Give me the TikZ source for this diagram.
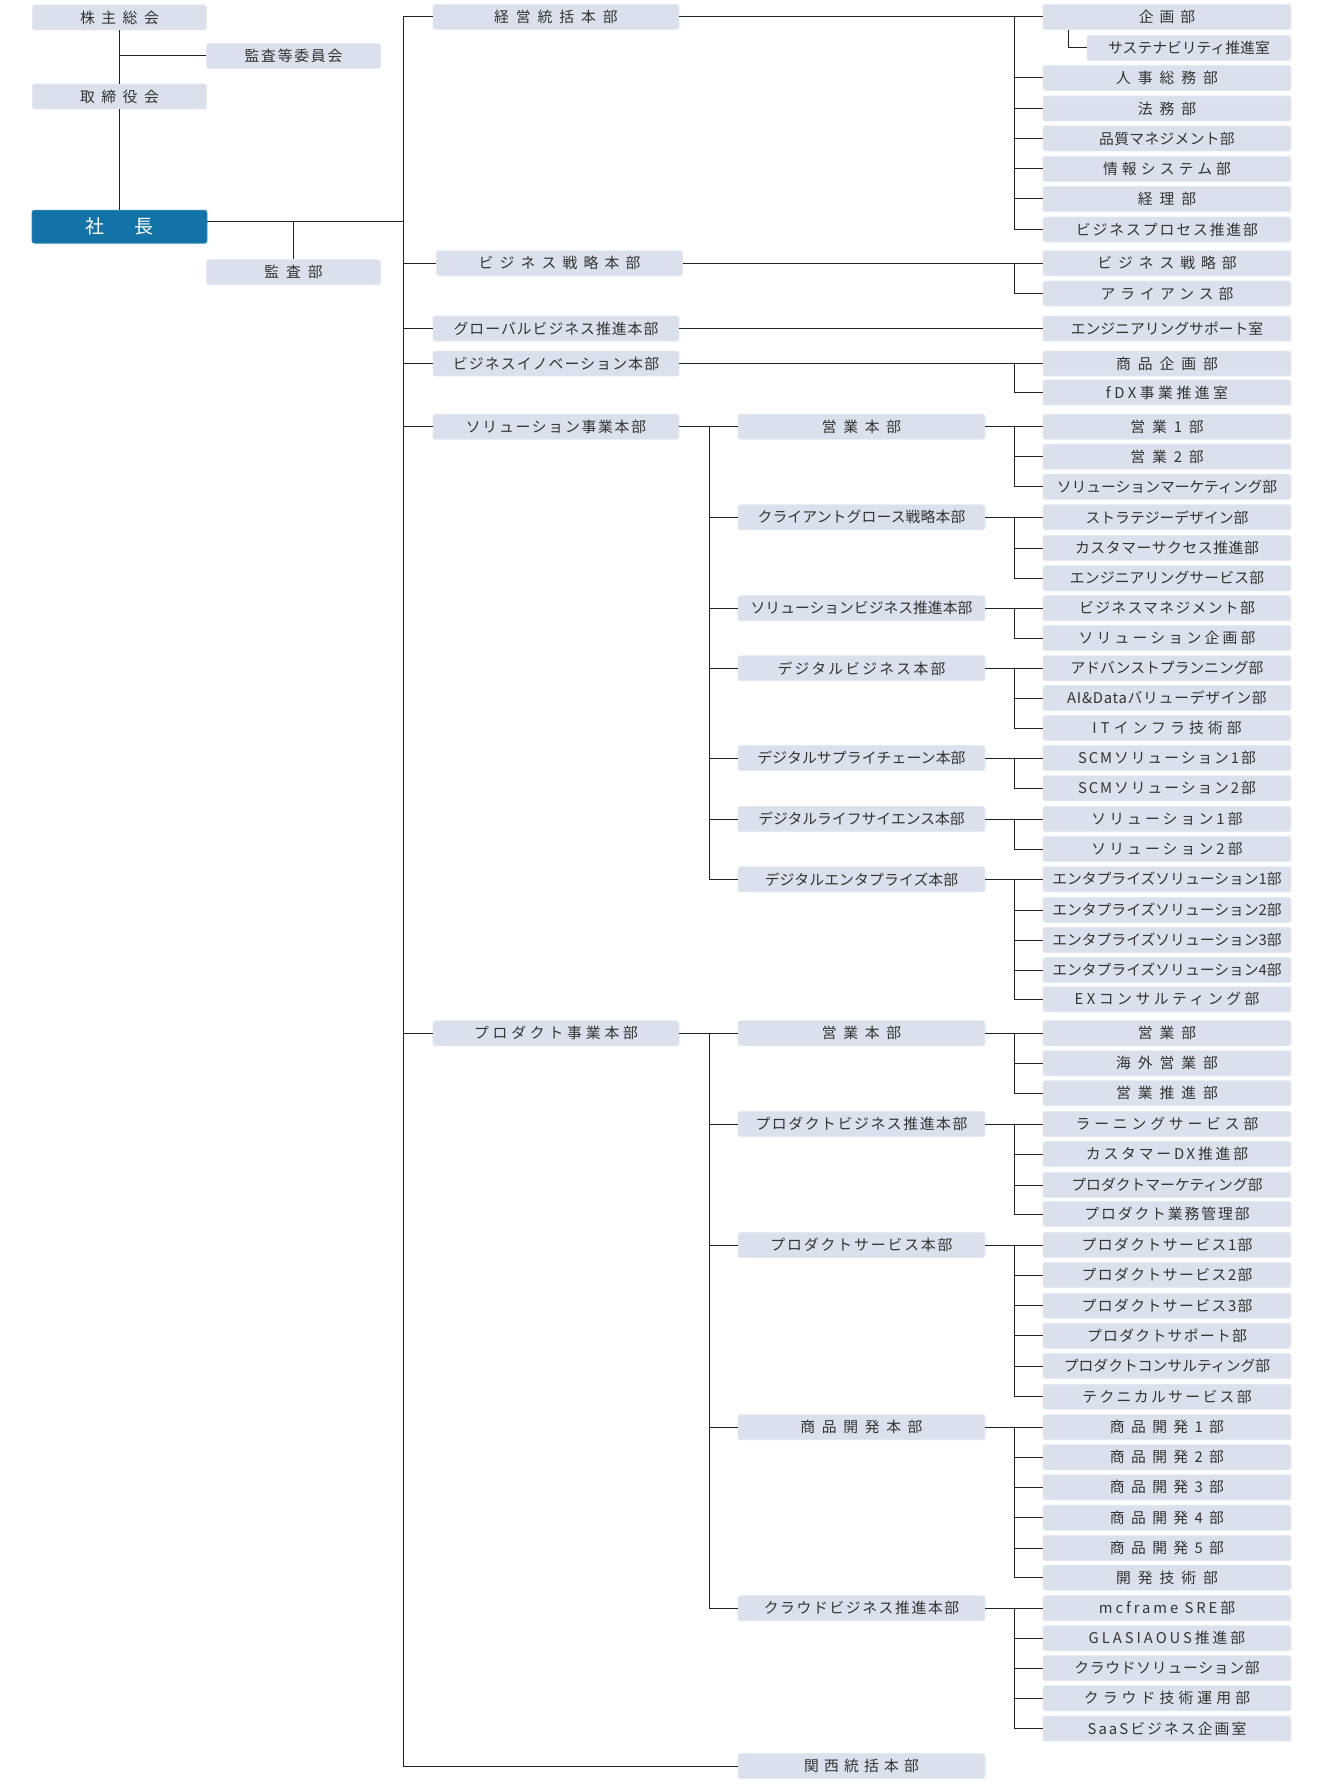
\documentclass[tikz,border=0pt]{standalone}
\usepackage{fontspec}
\newfontfamily\jpfont{Noto Sans CJK JP}
\definecolor{boxfill}{HTML}{DAE0EC}
\definecolor{boxedge}{HTML}{E4E8F1}
\definecolor{ceofill}{HTML}{1373A7}
\definecolor{ceoedge}{HTML}{3A88B8}
\definecolor{linegray}{HTML}{222222}
\definecolor{textgray}{HTML}{333333}

\tikzset{
    unit/.style={rectangle, rounded corners=2.5pt, fill=boxfill, draw=boxedge, line width=0.8pt,
        text=textgray, inner sep=0pt, minimum height=25pt, font=\jpfont\fontsize{14.8}{16}\selectfont},
    board/.style={unit, minimum width=174pt},
    hq/.style={unit, minimum width=246pt},
    div/.style={unit, minimum width=247pt},
    dept/.style={unit, minimum width=248pt},
    ceo/.style={rectangle, rounded corners=2.5pt, fill=ceofill, draw=ceoedge, line width=0.8pt,
        text=white, inner sep=0pt, minimum width=175pt, minimum height=33pt, font=\jpfont\fontsize{19}{21}\selectfont},
    trk/.style={font={\jpfont\fontsize{14.8}{16}\selectfont\addfontfeatures{LetterSpace=#1}}},
    link/.style={draw=linegray, line width=1pt},
}

\begin{document}
\begin{tikzpicture}[x=1pt, y=-1pt]
    \useasboundingbox (0, 0) rectangle (1320, 1790);

    % board and president
    \node[board, trk=44] (soukai) at (119.5, 17.5) {株主総会};
    \node[board, trk=12] (iinkai) at (293.5, 56) {監査等委員会};
    \node[board, trk=44] (torishimari) at (119.5, 96.5) {取締役会};
    \node[ceo] (shacho) at (119.5, 226.7) {社\hspace{31pt}長};
    \node[board, trk=47] (kansa) at (293.5, 272.3) {監査部};

    \coordinate (trunk) at (403, 0);
    \coordinate (busM) at (709, 0);
    \coordinate (busR) at (1014, 0);
    \coordinate (ceoline) at ([yshift=5.4pt]shacho.east);

    \draw[link] (soukai) -- (torishimari);
    \draw[link] (iinkai.west) -- (iinkai.west -| soukai.south);
    \draw[link] (torishimari) -- (shacho);
    \draw[link] (ceoline) -- (ceoline -| trunk);
    \draw[link] (kansa.north) -- (kansa.north |- ceoline);

    % headquarters
    \foreach \n/\x/\y/\ls/\txt in {keiei/556/17/47/経営統括本部, senryakuhq/559.5/263.3/42/ビジネス戦略本部,
            global/556/328.5/7/グローバルビジネス推進本部, innov/556/363.5/8/ビジネスイノベーション本部,
            solhq/556/426.7/12/ソリューション事業本部, prodhq/556/1033.3/26/プロダクト事業本部}
        \node[hq, trk=\ls] (\n) at (\x, \y) {\txt};

    % divisions
    \foreach \n/\y/\ls/\txt in {seigyo/426.7/45/営業本部, sclient/517.3/1/クライアントグロース戦略本部,
            ssolbiz/608.3/0/ソリューションビジネス推進本部, sdigbiz/668.3/15/デジタルビジネス本部,
            sscm/758/1/デジタルサプライチェーン本部, slife/819/0/デジタルライフサイエンス本部,
            sent/879.3/1/デジタルエンタプライズ本部, peigyo/1033.3/45/営業本部,
            pbiz/1124/11/プロダクトビジネス推進本部, psvc/1245/13/プロダクトサービス本部,
            pdev/1427.3/45/商品開発本部, pcloud/1608.3/11/クラウドビジネス推進本部,
            kansai/1766/35/関西統括本部}
        \node[div, trk=\ls] (\n) at (861.5, \y) {\txt};

    % departments
    \foreach \n/\y/\ls/\txt in {kikaku/17/40/企画部\hspace{10pt}, jinji/78/47/人事総務部, homu/108.5/47/法務部,
            hinshitsu/138.5/2/品質マネジメント部, joho/169/28/情報システム部, keiri/199/47/経理部,
            bpro/229.5/13/ビジネスプロセス推進部, senryaku/263.3/40/ビジネス戦略部,
            alliance/293.5/34/アライアンス部, engsup/328.5/0/エンジニアリングサポート室,
            shohin/363.5/47/商品企画部, fdx/392.5/24/fDX事業推進室,
            eigyo1/426.7/47/営業1部, eigyo2/456.7/47/営業2部, solmkt/486.7/0/ソリューションマーケティング部,
            strat/517.3/0/ストラテジーデザイン部, custsuc/548/4/カスタマーサクセス推進部,
            engsvc/578.3/1/エンジニアリングサービス部, bizmgmt/608.3/9/ビジネスマネジメント部,
            solplan/638/22/ソリューション企画部, advplan/668.3/0/アドバンストプランニング部,
            aidata/698/5/AI\&Dataバリューデザイン部, itinfra/728/28/ITインフラ技術部,
            scm1/758/13/SCMソリューション1部, scm2/788.3/13/SCMソリューション2部,
            sol1/819/21/ソリューション1部, sol2/849/21/ソリューション2部,
            ent1/879.3/0/エンタプライズソリューション1部, ent2/910/0/エンタプライズソリューション2部,
            ent3/940/0/エンタプライズソリューション3部, ent4/970/0/エンタプライズソリューション4部,
            excon/999.3/24/EXコンサルティング部,
            eigyo/1033.3/47/営業部, kaigai/1063.3/47/海外営業部, eisui/1093.3/47/営業推進部,
            learning/1124/26/ラーニングサービス部, custdx/1154/19/カスタマーDX推進部,
            prodmkt/1185/0/プロダクトマーケティング部, prodadm/1214/13/プロダクト業務管理部,
            psvc1/1245/10/プロダクトサービス1部, psvc2/1275/10/プロダクトサービス2部,
            psvc3/1305.7/10/プロダクトサービス3部, psup/1335.7/9/プロダクトサポート部,
            pcons/1366/0/プロダクトコンサルティング部, techsvc/1396.7/16/テクニカルサービス部,
            dev1/1427.3/43/商品開発1部, dev2/1457.3/43/商品開発2部, dev3/1487.3/43/商品開発3部,
            dev4/1517.7/43/商品開発4部, dev5/1548/43/商品開発5部, devtech/1577.7/47/開発技術部,
            mcf/1608.3/20/mcframe SRE部, glas/1638.3/20/GLASIAOUS推進部,
            cloudsol/1668.3/5/クラウドソリューション部, cloudops/1698.3/28/クラウド技術運用部,
            saas/1728.5/14/SaaSビジネス企画室}
        \node[dept, trk=\ls] (\n) at (1167, \y) {\txt};
    \node[unit, minimum width=204pt, trk=0] (sustain) at (1189, 48) {サステナビリティ推進室};

    % trunk from president
    \draw[link] (keiei.west) -- (keiei.west -| trunk) -- (kansai.west -| trunk) -- (kansai.west);
    \foreach \n in {senryakuhq, global, innov, solhq, prodhq}
        \draw[link] (\n.west) -- (\n.west -| trunk);

    % headquarters to divisions
    \foreach \p/\f/\kids in {solhq/seigyo/{sclient, ssolbiz, sdigbiz, sscm, slife, sent},
            prodhq/peigyo/{pbiz, psvc, pdev, pcloud}} {
        \draw[link] (\p) -- (\f);
        \foreach \n in \kids
            \draw[link] (\f.west -| busM) |- (\n.west);
    }

    % to departments
    \draw[link] (global) -- (engsup);
    \foreach \p/\f/\kids in {keiei/kikaku/{jinji, homu, hinshitsu, joho, keiri, bpro},
            senryakuhq/senryaku/{alliance}, innov/shohin/{fdx},
            seigyo/eigyo1/{eigyo2, solmkt}, sclient/strat/{custsuc, engsvc},
            ssolbiz/bizmgmt/{solplan}, sdigbiz/advplan/{aidata, itinfra},
            sscm/scm1/{scm2}, slife/sol1/{sol2}, sent/ent1/{ent2, ent3, ent4, excon},
            peigyo/eigyo/{kaigai, eisui}, pbiz/learning/{custdx, prodmkt, prodadm},
            psvc/psvc1/{psvc2, psvc3, psup, pcons, techsvc},
            pdev/dev1/{dev2, dev3, dev4, dev5, devtech},
            pcloud/mcf/{glas, cloudsol, cloudops, saas}} {
        \draw[link] (\p) -- (\f);
        \foreach \n in \kids
            \draw[link] (\f.west -| busR) |- (\n.west);
    }
    \draw[link] ([xshift=26pt]kikaku.south west) |- (sustain.west); % sub-office
\end{tikzpicture}
\end{document}
